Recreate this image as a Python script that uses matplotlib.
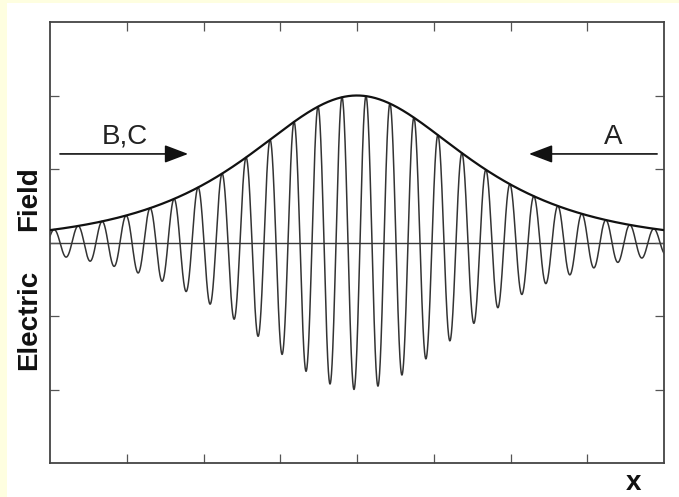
import numpy as np
import matplotlib
matplotlib.use("Agg")
import matplotlib.pyplot as plt
from matplotlib.patches import Rectangle

# Soliton-like wave packet: sech envelope modulating a carrier
peak_amplitude = 2.0      # envelope height at the packet centre
packet_center = 4.0       # position of the envelope maximum
packet_width = 1.264      # sech width parameter
carrier_wavelength = 0.3127
carrier_crest = 4.117     # position of one carrier crest

x_range = [0.0, 8.0]
y_range = [-3.0, 3.0]
x_ticks = [1, 2, 3, 4, 5, 6, 7]
y_ticks = [-2, -1, 0, 1, 2]

arrow_labels = ["B,C", "A"]

x = np.linspace(x_range[0], x_range[1], 6000)
envelope = peak_amplitude / np.cosh((x - packet_center) / packet_width)
field = envelope * np.cos(2 * np.pi * (x - carrier_crest) / carrier_wavelength)

fig = plt.figure(figsize=(6.79, 4.97), dpi=100, facecolor="white")
# pale frame strips along the left and top edges
fig.patches.append(Rectangle((0, 0), 7 / 679, 1, transform=fig.transFigure,
                             facecolor="#fefee0", edgecolor="none", zorder=0))
fig.patches.append(Rectangle((0, 1 - 3 / 497), 1, 3 / 497, transform=fig.transFigure,
                             facecolor="#fefee0", edgecolor="none", zorder=0))

ax = fig.add_axes([50 / 679, 1 - 463 / 497, 614 / 679, 441 / 497])
ax.set_xlim(*x_range)
ax.set_ylim(*y_range)

ax.axhline(0, color="#3a3a3a", lw=1.0, zorder=1)
ax.plot(x, field, color="#333333", lw=1.1, zorder=2)
ax.plot(x, envelope, color="#111111", lw=1.6, zorder=3)

ax.set_xticks(x_ticks)
ax.set_yticks(y_ticks)
ax.tick_params(direction="in", length=6.5, width=0.9, color="#555555",
               top=True, right=True, labelbottom=False, labelleft=False)
for s in ax.spines.values():
    s.set_color("#444444")
    s.set_linewidth(1.3)

arrow_style = "-|>,head_length=1.45,head_width=0.55"
ax.annotate("", xy=(1.80, 1.205), xytext=(0.13, 1.205),
            arrowprops=dict(arrowstyle=arrow_style, mutation_scale=10,
                            color="#111111", lw=1.2, shrinkA=0, shrinkB=0))
ax.annotate("", xy=(6.24, 1.205), xytext=(7.91, 1.205),
            arrowprops=dict(arrowstyle=arrow_style, mutation_scale=10,
                            color="#111111", lw=1.2, shrinkA=0, shrinkB=0))

ax.text(0.97, 1.44, arrow_labels[0], ha="center", va="center",
        fontsize=20, family="Liberation Sans", color="#222222")
ax.text(7.34, 1.44, arrow_labels[1], ha="center", va="center",
        fontsize=20, family="Liberation Sans", color="#222222")

# axis titles
fig.text(29.5 / 679, 1 - 320 / 497, "Electric", rotation=90, ha="center", va="center",
         fontsize=20, fontweight="bold", family="Liberation Sans", color="#111111")
fig.text(29.5 / 679, 1 - 198.5 / 497, "Field", rotation=90, ha="center", va="center",
         fontsize=20, fontweight="bold", family="Liberation Sans", color="#111111")
fig.text(634 / 679, 1 - 483 / 497, "x", ha="center", va="center",
         fontsize=20, fontweight="bold", family="Liberation Sans", color="#111111")

fig.savefig("out.png", dpi=100, facecolor=fig.get_facecolor())
